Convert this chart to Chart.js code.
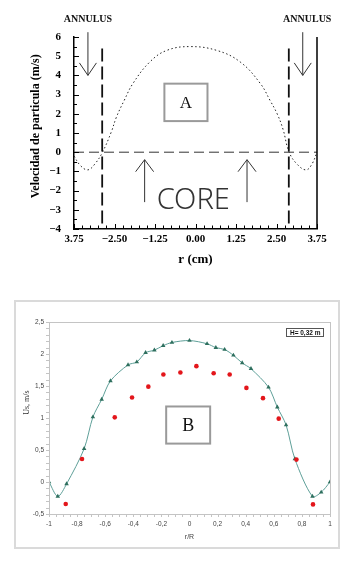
<!DOCTYPE html>
<html lang="es">
<head>
<meta charset="UTF-8">
<title>Velocidad de particula</title>
<script src="https://cdn.jsdelivr.net/npm/chart.js"></script>
<style>
  body { margin: 0; background: #fff; width: 353px; height: 565px; position: relative; overflow: hidden; }
  #chartA { position: absolute; left: 0; top: 0; }
  #frameB { position: absolute; left: 14px; top: 300px; width: 326px; height: 249px; border: 2px solid #dadada; box-sizing: border-box; }
  #chartB { position: absolute; left: 0; top: 295px; }
</style>
</head>
<body>
<canvas id="chartA" width="353" height="290"></canvas>
<div id="frameB"></div>
<canvas id="chartB" width="353" height="270"></canvas>
<script>
// ---- chart A data (r in cm, velocity in m/s)
const rA   = [-3.75, -3.55, -3.32, -3.1, -2.87, -2.6, -2.44, -2.2, -1.93, -1.41, -0.89, -0.17, 0.66, 1.38, 2.0, 2.3, 2.52, 2.7, 2.89, 3.15, 3.42, 3.6, 3.75];
const velA = [-0.2, -0.7, -0.92, -0.6, 0, 1.05, 1.83, 2.7, 3.58, 4.7, 5.3, 5.5, 5.3, 4.7, 3.58, 2.7, 2.0, 1.2, 0, -0.65, -0.92, -0.6, 0];
const coreEdgeR = [-2.88, 2.88];
const coreEdgeTop = 5.4;
const wallR = 3.75;
const annulusArrowR = [-3.32, 3.31];
const coreArrowR = [-1.57, 1.59];
const xTicksA = [-3.75, -2.5, -1.25, 0, 1.25, 2.5, 3.75];

// ---- chart B data (r/R, Us in m/s), H = 0,32 m
const rTri  = [-1, -0.9375, -0.875, -0.75, -0.6875, -0.625, -0.5625, -0.4375, -0.375, -0.3125, -0.25, -0.1875, -0.125, 0, 0.125, 0.1875, 0.25, 0.3125, 0.375, 0.4375, 0.5625, 0.625, 0.6875, 0.75, 0.875, 0.9375, 1];
const usTri = [0, -0.225, -0.03, 0.52, 1.015, 1.29, 1.58, 1.83, 1.875, 2.02, 2.06, 2.13, 2.18, 2.21, 2.16, 2.10, 2.07, 1.98, 1.86, 1.77, 1.48, 1.17, 0.89, 0.36, -0.225, -0.16, 0];
const rDot  = [-0.881, -0.765, -0.532, -0.409, -0.293, -0.186, -0.065, 0.049, 0.172, 0.286, 0.405, 0.523, 0.635, 0.761, 0.879];
const usDot = [-0.344, 0.36, 1.01, 1.32, 1.49, 1.68, 1.71, 1.81, 1.70, 1.68, 1.47, 1.31, 0.99, 0.35, -0.35];

const pts = (xs, ys) => xs.map((v, i) => ({ x: v, y: ys[i] }));
const serifB = (size) => 'bold ' + size + 'px "Liberation Serif", serif';

function arrow(ctx, x, y0, y1, hw, hh) {
  const dir = Math.sign(y1 - y0);
  ctx.beginPath();
  ctx.moveTo(x, y0); ctx.lineTo(x, y1);
  ctx.moveTo(x - hw, y1 - dir * hh); ctx.lineTo(x, y1); ctx.lineTo(x + hw, y1 - dir * hh);
  ctx.stroke();
}

const decorA = {
  id: 'decorA',
  afterDraw(chart) {
    const { ctx, chartArea: ca, scales: { x, y } } = chart;
    ctx.save();
    ctx.strokeStyle = '#000';
    ctx.lineWidth = 1;
    // inward ticks
    ctx.beginPath();
    for (let i = 0; i <= 20; i++) {
      const py = Math.round(y.getPixelForValue(-4 + i * 0.5)) + 0.5;
      ctx.moveTo(ca.left, py); ctx.lineTo(ca.left + (i % 2 ? 3 : 5), py);
    }
    for (let i = 0; i <= 30; i++) {
      const px = Math.round(x.getPixelForValue(-3.75 + i * 0.25)) + 0.5;
      ctx.moveTo(px, ca.bottom); ctx.lineTo(px, ca.bottom - (i % 5 ? 3.5 : 5));
    }
    ctx.stroke();

    // y title, a bit above the axis centre like the original
    ctx.fillStyle = '#000';
    ctx.font = serifB(12);
    ctx.textAlign = 'center';
    ctx.textBaseline = 'middle';
    ctx.save();
    ctx.translate(36, y.getPixelForValue(1.35));
    ctx.rotate(-Math.PI / 2);
    ctx.fillText('Velocidad de particula (m/s)', 0, 0);
    ctx.restore();

    // annulus arrows + labels
    ctx.strokeStyle = '#333';
    ctx.fillStyle = '#111';
    ctx.font = serifB(10);
    annulusArrowR.forEach((r, i) => {
      const px = x.getPixelForValue(r);
      arrow(ctx, px, y.getPixelForValue(6.25), y.getPixelForValue(4.0), 8.5, 12.5);
      ctx.fillText('ANNULUS', px + (i ? 4.5 : 0), 19);
    });
    // core arrows
    coreArrowR.forEach(r => {
      arrow(ctx, x.getPixelForValue(r), y.getPixelForValue(-2.6), y.getPixelForValue(-0.39), 9, 12);
    });
    ctx.fillStyle = '#333';
    ctx.font = '300 29px "Noto Sans", sans-serif';
    ctx.fillText('CORE', x.getPixelForValue(-0.07), y.getPixelForValue(-2.45) + 1);

    // box A
    const bx0 = x.getPixelForValue(-0.96), bx1 = x.getPixelForValue(0.37);
    const by0 = y.getPixelForValue(3.57), by1 = y.getPixelForValue(1.62);
    ctx.strokeStyle = '#9a9a9a';
    ctx.lineWidth = 2;
    ctx.strokeRect(bx0, by0, bx1 - bx0, by1 - by0);
    ctx.fillStyle = '#111';
    ctx.font = '17px "Liberation Serif", serif';
    ctx.fillText('A', (bx0 + bx1) / 2, (by0 + by1) / 2 + 1);
    ctx.restore();
  }
};

new Chart(document.getElementById('chartA'), {
  type: 'line',
  data: {
    datasets: [
      { data: pts(rA, velA), borderColor: '#222', borderWidth: 1, borderDash: [1.5, 2.5], pointRadius: 0, tension: 0.4 },
      ...coreEdgeR.map(r => ({ data: [{ x: r, y: coreEdgeTop }, { x: r, y: -4 }], borderColor: '#111', borderWidth: 1.8, borderDash: [13, 5], pointRadius: 0, clip: false })),
      { data: [{ x: wallR, y: 6 }, { x: wallR, y: -4 }], borderColor: '#000', borderWidth: 1.5, pointRadius: 0, clip: false },
      { data: [{ x: -3.75, y: 0 }, { x: 3.75, y: 0 }], borderColor: '#333', borderWidth: 1, borderDash: [10, 5], pointRadius: 0 }
    ]
  },
  options: {
    responsive: false,
    animation: false,
    devicePixelRatio: 1,
    events: [],
    layout: { padding: { top: 37, right: 36, left: 0, bottom: 0 } },
    plugins: { legend: { display: false }, tooltip: { enabled: false } },
    scales: {
      x: {
        type: 'linear', min: -3.75, max: 3.75,
        grid: { display: false, drawTicks: false },
        border: { display: true, color: '#000', width: 1.5 },
        afterBuildTicks: s => { s.ticks = xTicksA.map(v => ({ value: v })); },
        ticks: {
          autoSkip: false, maxRotation: 0, padding: 4, color: '#000',
          font: { family: '"Liberation Serif", serif', weight: 'bold', size: 11 },
          callback: v => v === -3.75 ? '3.75' : v.toFixed(2).replace('-', '\u2212')
        },
        title: { display: true, text: 'r (cm)', color: '#000', padding: { top: 0, bottom: 23 },
          font: { family: '"Liberation Serif", serif', weight: 'bold', size: 13 } },
        afterFit: s => { s.height = 61; }
      },
      y: {
        min: -4, max: 6,
        grid: { display: false, drawTicks: false },
        border: { display: true, color: '#000', width: 1.5 },
        ticks: {
          stepSize: 1, padding: 13, color: '#000',
          font: { family: '"Liberation Serif", serif', weight: 'bold', size: 11 },
          callback: v => String(v).replace('-', '\u2212')
        },
        afterFit: s => { s.width = 74; }
      }
    }
  },
  plugins: [decorA]
});

const decorB = {
  id: 'decorB',
  afterDraw(chart) {
    const { ctx, chartArea: ca, scales: { x, y } } = chart;
    ctx.save();
    ctx.strokeStyle = '#c4c4c4';
    ctx.lineWidth = 1;
    ctx.strokeRect(Math.round(ca.left) + 0.5, Math.round(ca.top) + 0.5, Math.round(ca.right - ca.left), Math.round(ca.bottom - ca.top));
    ctx.beginPath();
    for (let i = 0; i <= 30; i++) {
      const py = Math.round(y.getPixelForValue(-0.5 + i * 0.1)) + 0.5;
      ctx.moveTo(ca.left - 3, py); ctx.lineTo(ca.left, py);
    }
    for (let i = 0; i <= 40; i++) {
      const px = Math.round(x.getPixelForValue(-1 + i * 0.05)) + 0.5;
      ctx.moveTo(px, ca.bottom); ctx.lineTo(px, ca.bottom + 3);
    }
    ctx.stroke();

    // y title
    ctx.fillStyle = '#333';
    ctx.font = '8px "Liberation Serif", serif';
    ctx.textAlign = 'center';
    ctx.textBaseline = 'middle';
    ctx.save();
    ctx.translate(27, y.getPixelForValue(1.24));
    ctx.rotate(-Math.PI / 2);
    ctx.fillText('Us, m/s', 0, 0);
    ctx.restore();

    // H label box
    const hx0 = x.getPixelForValue(0.69), hx1 = x.getPixelForValue(0.95);
    const hy0 = y.getPixelForValue(2.4), hy1 = y.getPixelForValue(2.28);
    ctx.strokeStyle = '#555';
    ctx.strokeRect(Math.round(hx0) + 0.5, Math.round(hy0) + 0.5, Math.round(hx1 - hx0), Math.round(hy1 - hy0));
    ctx.fillStyle = '#111';
    ctx.font = 'bold 6.5px "Liberation Sans", sans-serif';
    ctx.fillText('H= 0,32 m', (hx0 + hx1) / 2 + 0.5, (hy0 + hy1) / 2 + 1);

    // box B
    const bx0 = x.getPixelForValue(-0.166), bx1 = x.getPixelForValue(0.147);
    const by0 = y.getPixelForValue(1.18), by1 = y.getPixelForValue(0.6);
    ctx.strokeStyle = '#9a9a9a';
    ctx.lineWidth = 2;
    ctx.strokeRect(bx0, by0, bx1 - bx0, by1 - by0);
    ctx.fillStyle = '#111';
    ctx.font = '18px "Liberation Serif", serif';
    ctx.fillText('B', (bx0 + bx1) / 2, (by0 + by1) / 2 + 1);
    ctx.restore();
  }
};

const fmtComma = v => {
  const n = Math.round(v * 10) / 10;
  return (n === 0 ? '0' : String(n)).replace('.', ',');
};

new Chart(document.getElementById('chartB'), {
  type: 'line',
  data: {
    datasets: [
      { data: pts(rDot, usDot), showLine: false, pointStyle: 'circle', pointRadius: 2.3,
        pointBackgroundColor: '#e3161b', pointBorderColor: '#e3161b', pointBorderWidth: 0 },
      { data: pts(rTri, usTri), borderColor: '#5e9f98', borderWidth: 1, tension: 0.3,
        pointStyle: 'triangle', pointRadius: 2.6, pointBackgroundColor: '#2e6f5e', pointBorderColor: '#2e6f5e', pointBorderWidth: 0 }
    ]
  },
  options: {
    responsive: false,
    animation: false,
    devicePixelRatio: 1,
    events: [],
    layout: { padding: { top: 27, right: 23, left: 0, bottom: 0 } },
    plugins: { legend: { display: false }, tooltip: { enabled: false } },
    scales: {
      x: {
        type: 'linear', min: -1, max: 1,
        grid: { display: false, drawTicks: false },
        border: { display: false },
        ticks: { stepSize: 0.2, autoSkip: false, maxRotation: 0, padding: 6, color: '#444',
          font: { family: '"Liberation Sans", sans-serif', size: 6.5 }, callback: fmtComma },
        title: { display: true, text: 'r/R', color: '#444', padding: { top: 0, bottom: 24 },
          font: { family: '"Liberation Sans", sans-serif', size: 7 } },
        afterFit: s => { s.height = 51; }
      },
      y: {
        min: -0.5, max: 2.5,
        grid: { display: false, drawTicks: false },
        border: { display: false },
        ticks: { stepSize: 0.5, padding: 5, color: '#444',
          font: { family: '"Liberation Sans", sans-serif', size: 6.5 }, callback: fmtComma },
        afterFit: s => { s.width = 49; }
      }
    }
  },
  plugins: [decorB]
});
</script>
</body>
</html>
